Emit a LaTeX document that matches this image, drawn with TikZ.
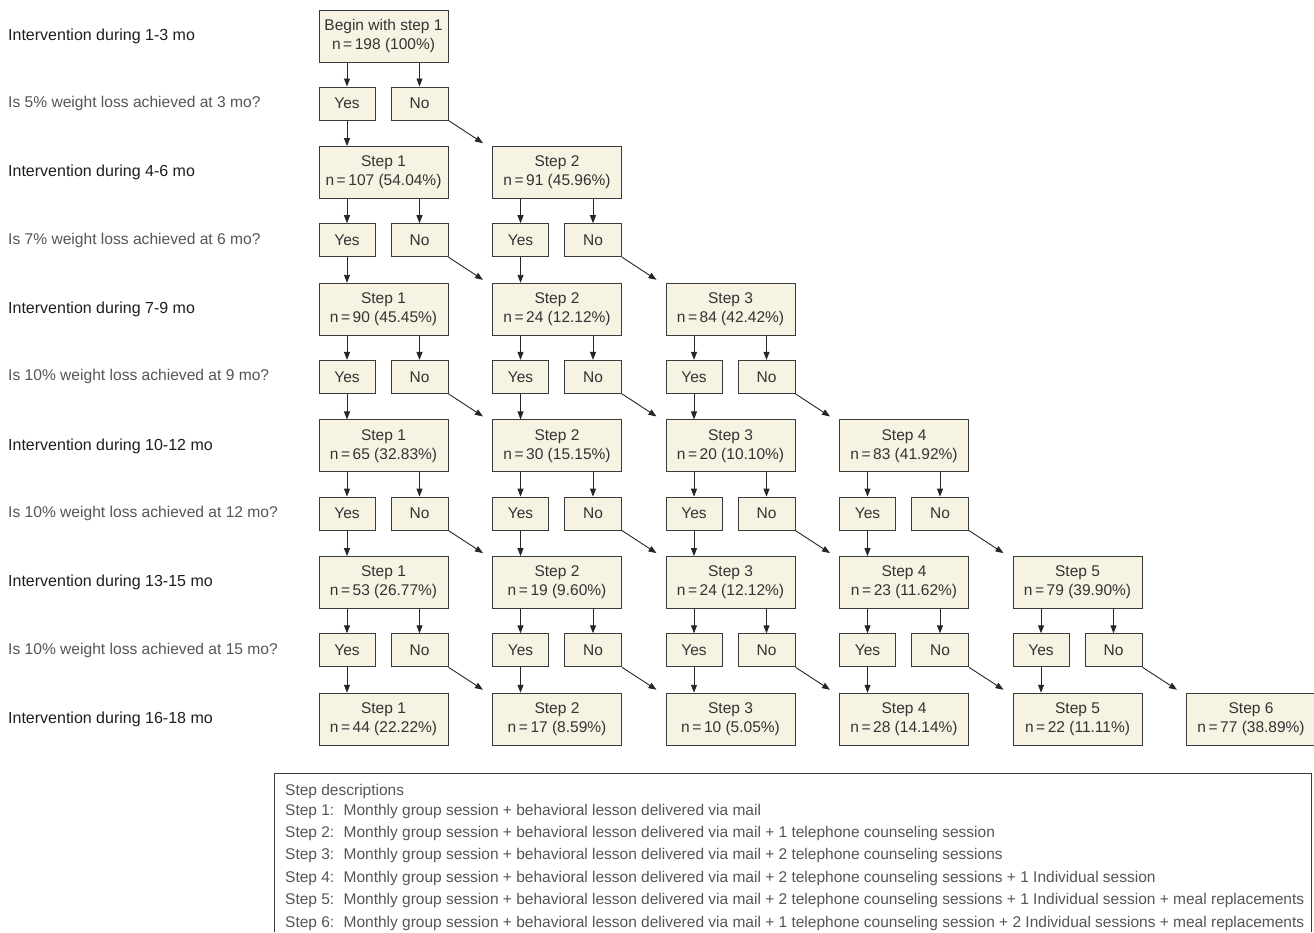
\documentclass[tikz,border=0pt]{standalone}
\usepackage{fontspec}
\setmainfont{Liberation Sans}
\usetikzlibrary{arrows.meta,calc}
\definecolor{boxfill}{HTML}{F6F3E3}
\definecolor{boxline}{HTML}{3A3A3A}
\definecolor{txt}{HTML}{333333}
\definecolor{qtxt}{HTML}{555555}
\definecolor{ltxt}{HTML}{1E1E1E}
\begin{document}
\begin{tikzpicture}[x=1pt,y=-1pt,
  stepbox/.style={draw=boxline, fill=boxfill, line width=1pt, minimum width=129pt, minimum height=52pt, align=center, font=\fontsize{15.5}{19}\selectfont, text=txt, inner sep=0pt},
  ynbox/.style={draw=boxline, fill=boxfill, line width=1pt, minimum width=56pt, minimum height=33pt, font=\fontsize{15.5}{19}\selectfont, text=txt, inner sep=0pt},
  arr/.style={-{Triangle[length=8pt,width=6pt]}, line width=0.9pt, draw=black!85},
  rowlabel/.style={anchor=west, inner sep=0pt, font=\fontsize{16}{19}\selectfont, text=ltxt},
  qlabel/.style={anchor=west, inner sep=0pt, font=\fontsize{15.6}{19}\selectfont, text=qtxt},
  legtext/.style={anchor=west, inner sep=0pt, font=\fontsize{15.5}{18}\selectfont, text=qtxt},
  legframe/.style={draw=boxline, line width=0.9pt}]
\useasboundingbox (0,0) rectangle (1314,932);

% step boxes
\node[stepbox] (s-0-0) at (383.5,36) {Begin with step 1\\n\,=\,198 (100\%)};
\foreach \r/\c/\v in {
  1/0/107 (54.04\%), 1/1/91 (45.96\%),
  2/0/90 (45.45\%), 2/1/24 (12.12\%), 2/2/84 (42.42\%),
  3/0/65 (32.83\%), 3/1/30 (15.15\%), 3/2/20 (10.10\%), 3/3/83 (41.92\%),
  4/0/53 (26.77\%), 4/1/19 (9.60\%), 4/2/24 (12.12\%), 4/3/23 (11.62\%), 4/4/79 (39.90\%),
  5/0/44 (22.22\%), 5/1/17 (8.59\%), 5/2/10 (5.05\%), 5/3/28 (14.14\%), 5/4/22 (11.11\%), 5/5/77 (38.89\%)}{
  \pgfmathtruncatemacro\k{\c+1}
  \node[stepbox] (s-\r-\c) at ({383.5+173.5*\c},{36+136.65*\r}) {Step \k\\n\,=\,\v};
}

% yes / no boxes and connectors
\foreach \r in {0,...,4}{
  \foreach \c in {0,...,\r}{
    \pgfmathtruncatemacro\rr{\r+1}
    \pgfmathtruncatemacro\cc{\c+1}
    \node[ynbox] (y-\r-\c) at ({347+173.5*\c},{103.5+136.7*\r}) {Yes};
    \node[ynbox, minimum width=57pt] (n-\r-\c) at ({419.5+173.5*\c},{103.5+136.7*\r}) {No};
    \draw[arr] (s-\r-\c.south -| y-\r-\c.north) -- (y-\r-\c.north);
    \draw[arr] (s-\r-\c.south -| n-\r-\c.north) -- (n-\r-\c.north);
    \draw[arr] (y-\r-\c.south) -- (y-\r-\c.south |- s-\rr-\c.north);
    \draw[arr] (n-\r-\c.south east) -- ($(s-\rr-\cc.north west)+(-9pt,3pt)$);
  }
}

% row labels
\foreach \r/\t in {0/1-3, 1/4-6, 2/7-9, 3/10-12, 4/13-15, 5/16-18}{
  \node[rowlabel] (rl-\r) at (8,{36+136.65*\r}) {Intervention during \t\ mo};
}
\foreach \r/\p/\m in {0/5/3, 1/7/6, 2/10/9, 3/10/12, 4/10/15}{
  \node[qlabel] (ql-\r) at (8,{103.5+136.7*\r}) {Is \p\% weight loss achieved at \m\ mo?};
}

% legend
\coordinate (lg-bl) at (274,932);
\coordinate (lg-tl) at (274,773);
\coordinate (lg-tr) at (1311,773);
\coordinate (lg-br) at (1311,932);
\draw[legframe] (lg-bl) -- (lg-tl) -- (lg-tr) -- (lg-br);
\node[legtext] (lg-h) at (285,791) {Step descriptions};
\foreach \k/\t in {
  1/{},
  2/{ + 1 telephone counseling session},
  3/{ + 2 telephone counseling sessions},
  4/{ + 2 telephone counseling sessions + 1 Individual session},
  5/{ + 2 telephone counseling sessions + 1 Individual session + meal replacements},
  6/{ + 1 telephone counseling session + 2 Individual sessions + meal replacements}}{
  \node[legtext] (lg-\k) at (285,{811+22.4*(\k-1)}) {Step \k:\hspace{0.6em}Monthly group session + behavioral lesson delivered via mail\t};
}
\end{tikzpicture}
\end{document}
